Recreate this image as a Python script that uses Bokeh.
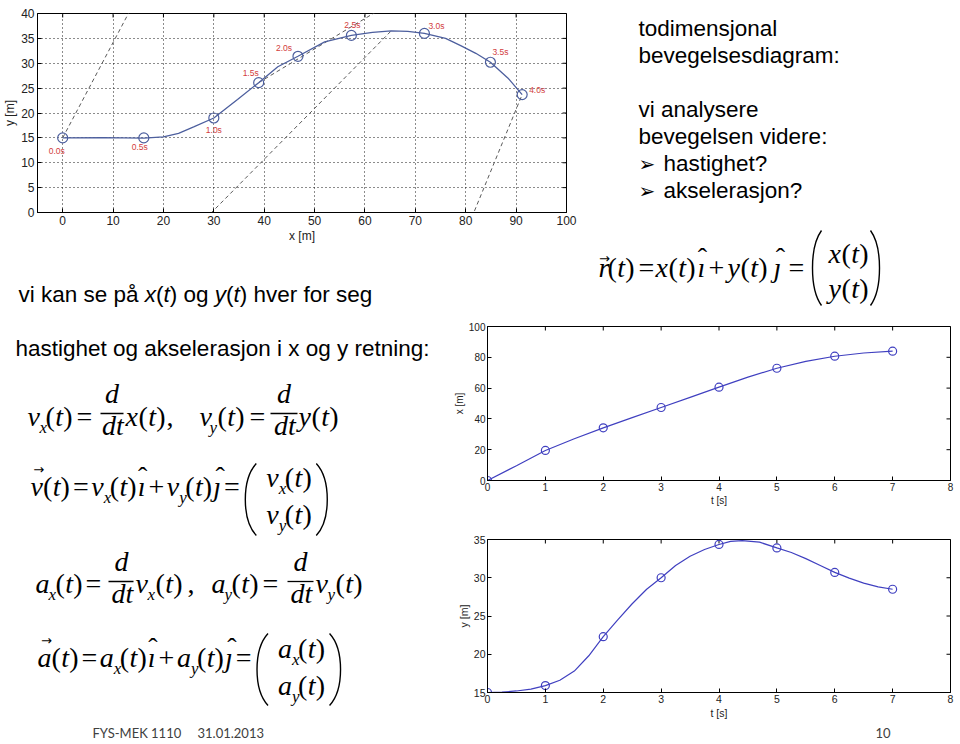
import math
from bokeh.plotting import figure
from bokeh.models import Range1d, FixedTicker
from bokeh.layouts import row, column
from bokeh.core.properties import value
from bokeh.embed import file_html
from bokeh.resources import INLINE

# ---------------- data ----------------
path_labels = ["0.0s", "0.5s", "1.0s", "1.5s", "2.0s", "2.5s", "3.0s", "3.5s", "4.0s"]
path_x = [0.0, 16.1, 30.0, 38.9, 46.7, 57.3, 71.8, 84.9, 91.2]
path_y = [15.0, 15.0, 19.0, 26.1, 31.4, 35.6, 36.0, 30.2, 23.7]
path_curve_x = [0, 8, 16.1, 20, 23, 26, 30, 34.7, 38.9, 42.7, 46.7, 52, 57.3, 61.5,
                65.2, 68.5, 71.8, 76, 79.1, 82.0, 84.9, 88.4, 91.2]
path_curve_y = [15, 15.05, 14.95, 15.2, 15.9, 17.2, 19.0, 22.7, 26.1, 29.3, 31.4, 34.3, 35.6, 36.2,
                36.5, 36.4, 36.0, 35.0, 33.5, 32.0, 30.2, 27.0, 23.7]
tangent_x0 = [0.0, 23.5, 38.9, 79.1]
tangent_y0 = [15.0, -6.2, 26.1, -6.2]
tangent_x1 = [14.4, 65.2, 65.9, 91.2]
tangent_y1 = [42.6, 36.5, 42.6, 23.7]
path_xticks = [0, 10, 20, 30, 40, 50, 60, 70, 80, 90, 100]
path_yticks = [0, 5, 10, 15, 20, 25, 30, 35, 40]

t_points = [0, 1, 2, 3, 4, 5, 6, 7]
x_points = [0.0, 19.5, 34.2, 47.4, 60.6, 72.9, 80.7, 84.0]
y_points = [15.0, 15.9, 22.3, 30.0, 34.35, 33.9, 30.7, 28.5]
t_curve_x = [0, 0.5, 1, 1.5, 2, 2.5, 3, 3.5, 4, 4.5, 5, 5.5, 6, 6.5, 7]
x_curve = [0, 9.6, 19.5, 27.1, 34.2, 40.8, 47.4, 54.0, 60.6, 67.1, 72.9, 77.4, 80.7, 82.8, 84.0]
t_curve_y = [0, 0.25, 0.5, 0.75, 1, 1.25, 1.5, 1.75, 2, 2.25, 2.5, 2.75, 3, 3.25, 3.5, 3.75,
             4, 4.2, 4.4, 4.7, 5, 5.25, 5.5, 5.75, 6, 6.25, 6.5, 6.75, 7]
y_curve = [15, 15.05, 15.2, 15.45, 15.9, 16.6, 17.8, 19.8, 22.3, 24.5, 26.6, 28.5, 30.0, 31.6,
           32.8, 33.7, 34.35, 34.75, 34.85, 34.65, 33.9, 33.3, 32.5, 31.6, 30.7, 29.95, 29.3,
           28.8, 28.5]
t_ticks = [0, 1, 2, 3, 4, 5, 6, 7, 8]
x_ticks = [0, 20, 40, 60, 80, 100]
y_ticks = [15, 20, 25, 30, 35]

# ---------------- styles ----------------
S = 1.0
SERIF = "Liberation Serif"
SANS = "Liberation Sans"
label_dx = [-6, -4, 0, -8, -14, 1, 12, 10, 15]
label_dy = [13, 9, 12, -10, -8, -10, -7, -10, -5]
BASE_SHIFT = 0.35   # rendered alphabetic text sits this many em lower; compensate


def sc(v):
    return int(round(v * S))


def px(v):
    return f"{v * S:.1f}px"


W, H = 959, 743
wA = sc(580); wT = W - wA
hTop = sc(318); hA = sc(245); hM = hTop - hA
hT = sc(225); hR = hTop - hT
hBot = H - hTop
wL = sc(450); wRc = W - wL
hX = sc(207); hY = sc(200); hF = hBot - hX - hY

# Times / Liberation Serif advance widths (1/1000 em)
TW = {"a": 500, "d": 500, "r": 389, "t": 278, "v": 444, "x": 444, "y": 444, "ı": 278, "ȷ": 278,
      "(": 333, ")": 333, "=": 564, "+": 564}


class Canvas:
    def __init__(self, xoff, yoff, w, h):
        x0, y0 = xoff / S, yoff / S
        self.p = figure(width=w, height=h, x_range=Range1d(x0, x0 + w / S),
                        y_range=Range1d(y0 + h / S, y0), toolbar_location=None,
                        output_backend="svg", min_border=0, x_axis_location=None,
                        y_axis_location=None, outline_line_color=None, frame_align=False)
        self.p.grid.visible = False
        self.groups = {}
        self.segs = ([], [], [], [])
        self.bez = ([], [], [], [], [], [], [], [])

    def t(self, x, y, s, size=28, font=SERIF, style="italic", align="left",
          baseline="alphabetic", color="black"):
        if baseline == "alphabetic":
            y = y - BASE_SHIFT * size
        key = (font, size, style, align, baseline, color)
        g = self.groups.setdefault(key, ([], [], []))
        g[0].append(x); g[1].append(y); g[2].append(s)

    def bar(self, x0, x1, y):
        for lst, v in zip(self.segs, (x0, y, x1, y)):
            lst.append(v)

    def big_paren(self, xl, xr, yt, yb, side):
        if side == "left":
            xe, xb = xr, xl
        else:
            xe, xb = xl, xr
        hh = yb - yt
        cx = xe + (xb - xe) / 0.75
        for lst, v in zip(self.bez, (xe, yt, xe, yb, cx, yt + 0.22 * hh, cx, yb - 0.22 * hh)):
            lst.append(v)

    def paren_t(self, x, b, size=28):
        self.t(x, b, "(", size, style="normal")
        self.t(x + 0.35 * size, b, "t", size)
        self.t(x + 0.63 * size, b, ")", size, style="normal")
        return x + 0.983 * size

    def sym(self, x, b, name, sub=None, xsub=None, xpar=None):
        self.t(x, b, name, 28)
        if sub is not None:
            self.t(xsub, b + 7, sub, 17)
        if xpar is not None:
            self.paren_t(xpar, b)

    def var(self, x, b, name, sub=None, vec=False):
        self.t(x, b, name, 28)
        w = TW[name] / 1000 * 28
        if vec:
            self.arrow(x + w / 2 + 2, b - 27)
        x += w
        if sub is not None:
            self.t(x, b + 7, sub, 17)
            x += 6
        return self.paren_t(x, b)

    def op(self, x, b, s, gap=2.5):
        self.t(x + gap, b, s, 28, style="normal")
        return x + gap + TW[s] / 1000 * 28 + gap

    def unit(self, x, b, s):
        self.t(x, b, s, 28)
        self.hat(x + 5 if s == "ı" else x + 7, b)
        return x + TW[s] / 1000 * 28 + 0.5

    def hat(self, xc, b):
        self.t(xc, b - 10, "ˆ", 28, style="normal", align="center")

    def arrow(self, xc, y):
        self.t(xc, y, "→", 13, font="DejaVu Sans", style="normal", align="center", baseline="middle")

    def frac(self, xc, x0, x1, ybar):
        self.t(xc, ybar - 10, "d", 28, align="center")
        self.bar(x0, x1, ybar)
        self.t(xc + 1, ybar + 22, "dt", 28, align="center")

    def done(self):
        for (font, size, style, align, baseline, color), (xs, ys, ts) in self.groups.items():
            self.p.text(x=xs, y=ys, text=ts, text_font=value(font), text_font_size=px(size),
                        text_font_style=style, text_align=align, text_baseline=baseline,
                        text_color=color)
        if self.segs[0]:
            self.p.segment(x0=self.segs[0], y0=self.segs[1], x1=self.segs[2], y1=self.segs[3],
                           line_color="black", line_width=1.3)
        if self.bez[0]:
            b = self.bez
            self.p.bezier(x0=b[0], y0=b[1], x1=b[2], y1=b[3], cx0=b[4], cy0=b[5], cx1=b[6], cy1=b[7],
                          line_color="black", line_width=1.4)
        return self.p


ARIAL = {' ': 278, 'a': 556, 'b': 556, 'c': 500, 'd': 556, 'e': 556, 'f': 278, 'g': 556, 'h': 556,
         'i': 222, 'j': 222, 'k': 500, 'l': 222, 'm': 833, 'n': 556, 'o': 556, 'p': 556, 'r': 333,
         's': 500, 't': 278, 'v': 500, 'x': 500, 'y': 500, 'å': 556, '(': 333, ')': 333, ':': 278}


def rich(c, x, b, segs, size):
    for s, style in segs:
        c.t(x, b, s, size, font=SANS, style=style)
        x += sum(ARIAL.get(ch, 556) for ch in s) / 1000.0 * size


def styled_plot(w, h, xr, yr, borders, xticks, yticks, fs, xlabel, ylabel, tick_len):
    p = figure(width=w, height=h, x_range=Range1d(*xr), y_range=Range1d(*yr),
               toolbar_location=None, output_backend="svg", frame_align=False,
               min_border_left=borders[0], min_border_right=borders[1],
               min_border_top=borders[2], min_border_bottom=borders[3])
    p.outline_line_color = "black"
    for ax, ticks, lab in ((p.xaxis, xticks, xlabel), (p.yaxis, yticks, ylabel)):
        ax.ticker = FixedTicker(ticks=ticks)
        ax.axis_label = lab
        ax.axis_label_text_font = SANS
        ax.axis_label_text_font_style = "normal"
        ax.axis_label_text_font_size = fs
        ax.axis_label_text_color = "#222222"
        ax.axis_label_standoff = 1
        ax.major_label_text_font = SANS
        ax.major_label_text_font_size = fs
        ax.major_label_text_color = "#222222"
        ax.major_label_standoff = 2
        ax.major_tick_in = tick_len
        ax.major_tick_out = 0
        ax.minor_tick_line_color = None
        ax.axis_line_color = "black"
        ax.major_tick_line_color = "black"
    p.grid.visible = False
    # inward ticks on the top and right edges of the box
    p.scatter(xticks, [yr[1]] * len(xticks), marker="dash", angle=math.pi / 2,
              size=2 * tick_len, line_color="black", line_width=1)
    p.scatter([xr[1]] * len(yticks), yticks, marker="dash", size=2 * tick_len,
              line_color="black", line_width=1)
    return p


# ---------------- top-left: 2D path ----------------
pA = styled_plot(wA, hA, (-5, 100), (0, 40), (sc(37), sc(14), sc(13), sc(31)),
                 path_xticks, path_yticks, px(12), "x [m]", "y [m]", 4)
pA.xaxis.major_label_standoff = 3
pA.yaxis.major_label_standoff = 3
pA.xgrid.visible = True
pA.ygrid.visible = True
for g in (pA.xgrid, pA.ygrid):
    g.grid_line_color = "black"
    g.grid_line_dash = "1 3"
    g.grid_line_alpha = 0.9
pA.segment(x0=tangent_x0, y0=tangent_y0, x1=tangent_x1, y1=tangent_y1,
           line_color="#5a5a5a", line_dash="4 3", line_width=1)
pA.line(path_curve_x, path_curve_y, line_color="#4d5f9e", line_width=1.3)
pA.scatter(path_x, path_y, marker="circle", size=sc(10), fill_color=None,
           line_color="#4d5f9e", line_width=1.2)
pA.text(x=path_x, y=path_y, text=path_labels, x_offset=[d * S for d in label_dx],
        y_offset=[d * S for d in label_dy], text_align="center", text_baseline="middle",
        text_font=value(SANS), text_font_size=px(8.5), text_color="#d23c3c")

# ---------------- x(t) and y(t) ----------------
pX = styled_plot(wRc, hX, (0, 8), (0, 100), (sc(37), sc(9), sc(8), sc(45)),
                 t_ticks, x_ticks, px(10), "t [s]", "x [m]", 4)
pX.line(t_curve_x, x_curve, line_color="#4040c0", line_width=1.2)
pX.scatter(t_points, x_points, marker="circle", size=sc(8), fill_color=None,
           line_color="#4040c0", line_width=1.2)

pY = styled_plot(wRc, hY, (0, 8), (15, 35), (sc(37), sc(9), sc(14), sc(33)),
                 t_ticks, y_ticks, px(10.5), "t [s]", "y [m]", 4)
pY.line(t_curve_y, y_curve, line_color="#4040c0", line_width=1.2)
pY.scatter(t_points, y_points, marker="circle", size=sc(8), fill_color=None,
           line_color="#4040c0", line_width=1.2)

# ---------------- text canvases ----------------
cT = Canvas(wA, 0, wT, hT)
for txt, b in (("todimensjonal", 36), ("bevegelsesdiagram:", 63), ("vi analysere", 117),
               ("bevegelsen videre:", 144)):
    cT.t(638, b, txt, 22.5, font=SANS, style="normal")
for txt, b in (("hastighet?", 171), ("akselerasjon?", 198)):
    cT.t(638, b - 1, "➢", 20, font="DejaVu Sans", style="normal")
    cT.t(663, b, txt, 22.5, font=SANS, style="normal")

cR = Canvas(wA, hT, wT, hR)
B = 277
cR.sym(598, B, "r", xpar=607); cR.arrow(604, 258)
cR.t(638, B, "=", 28, style="normal")
cR.sym(655, B, "x", xpar=668)
cR.unit(697, B, "ı")
cR.t(708, B, "+", 28, style="normal")
cR.sym(727, B, "y", xpar=740)
cR.unit(773, B, "ȷ")
cR.t(788, B, "=", 28, style="normal")
cR.big_paren(812, 821, 230, 305, "left")
cR.sym(828, 263, "x", xpar=841)
cR.sym(828, 298, "y", xpar=841)
cR.big_paren(870, 879, 230, 305, "right")

cM = Canvas(0, hA, wA, hM)
rich(cM, 18, 302, [("vi kan se på ", "normal"), ("x", "italic"), ("(", "normal"), ("t", "italic"),
                   (") og ", "normal"), ("y", "italic"), ("(", "normal"), ("t", "italic"),
                   (") hver for seg", "normal")], 22.5)

cL = Canvas(0, hTop, wL, hBot)
cL.t(15, 356, "hastighet og akselerasjon i x og y retning:", 22.5, font=SANS, style="normal")
# line 1
B = 426
cL.sym(27, B, "v", "x", 39, 45)
cL.t(76, B, "=", 28, style="normal")
cL.frac(111.5, 100, 123, 413)
cL.sym(125, B, "x", xpar=138)
cL.t(166, B, ",", 28, style="normal")
cL.sym(199, B, "v", "y", 209, 217)
cL.t(249, B, "=", 28, style="normal")
cL.frac(283.5, 270, 297, 413)
cL.sym(298, B, "y", xpar=311)
# line 2
B = 496
x = cL.var(30, B, "v", vec=True)
x = cL.op(x, B, "=")
x = cL.var(x, B, "v", "x")
x = cL.unit(x + 0.5, B, "ı")
x = cL.op(x, B, "+")
x = cL.var(x, B, "v", "y")
x = cL.unit(x + 0.5, B, "ȷ")
x = cL.op(x, B, "=")
cL.big_paren(x + 3, x + 14, 463, 535, "left")
cL.var(x + 24, 487, "v", "x")
xe = cL.var(x + 24, 524, "v", "y")
cL.big_paren(xe + 4, xe + 15, 463, 535, "right")
# line 3
B = 593
cL.sym(35, B, "a", "x", 48, 55)
cL.t(85, B, "=", 28, style="normal")
cL.frac(121, 108, 133, 581)
cL.sym(135, B, "v", "x", 147, 155)
cL.t(187, B, ",", 28, style="normal")
cL.sym(211, B, "a", "y", 224, 231)
cL.t(262, B, "=", 28, style="normal")
cL.frac(300, 287, 313, 581)
cL.sym(315, B, "v", "y", 327, 335)
# line 4
B = 667
x = cL.var(37, B, "a", vec=True)
x = cL.op(x, B, "=")
x = cL.var(x, B, "a", "x")
x = cL.unit(x + 0.5, B, "ı")
x = cL.op(x, B, "+")
x = cL.var(x, B, "a", "y")
x = cL.unit(x + 0.5, B, "ȷ")
x = cL.op(x, B, "=")
cL.big_paren(x + 3, x + 14, 633, 705, "left")
cL.var(x + 24, 658, "a", "x")
xe = cL.var(x + 24, 695, "a", "y")
cL.big_paren(xe + 4, xe + 15, 633, 705, "right")
# footer
cL.t(92, 737, "FYS-MEK 1110", 13, font="Lato", style="normal", color="#404040")
cL.t(197, 737, "31.01.2013", 13, font="Lato", style="normal", color="#404040")

cF = Canvas(wL, hTop + hX + hY, wRc, hF)
cF.t(875, 737, "10", 13, font="Lato", style="normal", color="#404040")

layout = column(
    row(column(pA, cM.done()), column(cT.done(), cR.done())),
    row(cL.done(), column(pX, pY, cF.done())),
)

with open("out.html", "w") as f:
    f.write(file_html(layout, INLINE))
